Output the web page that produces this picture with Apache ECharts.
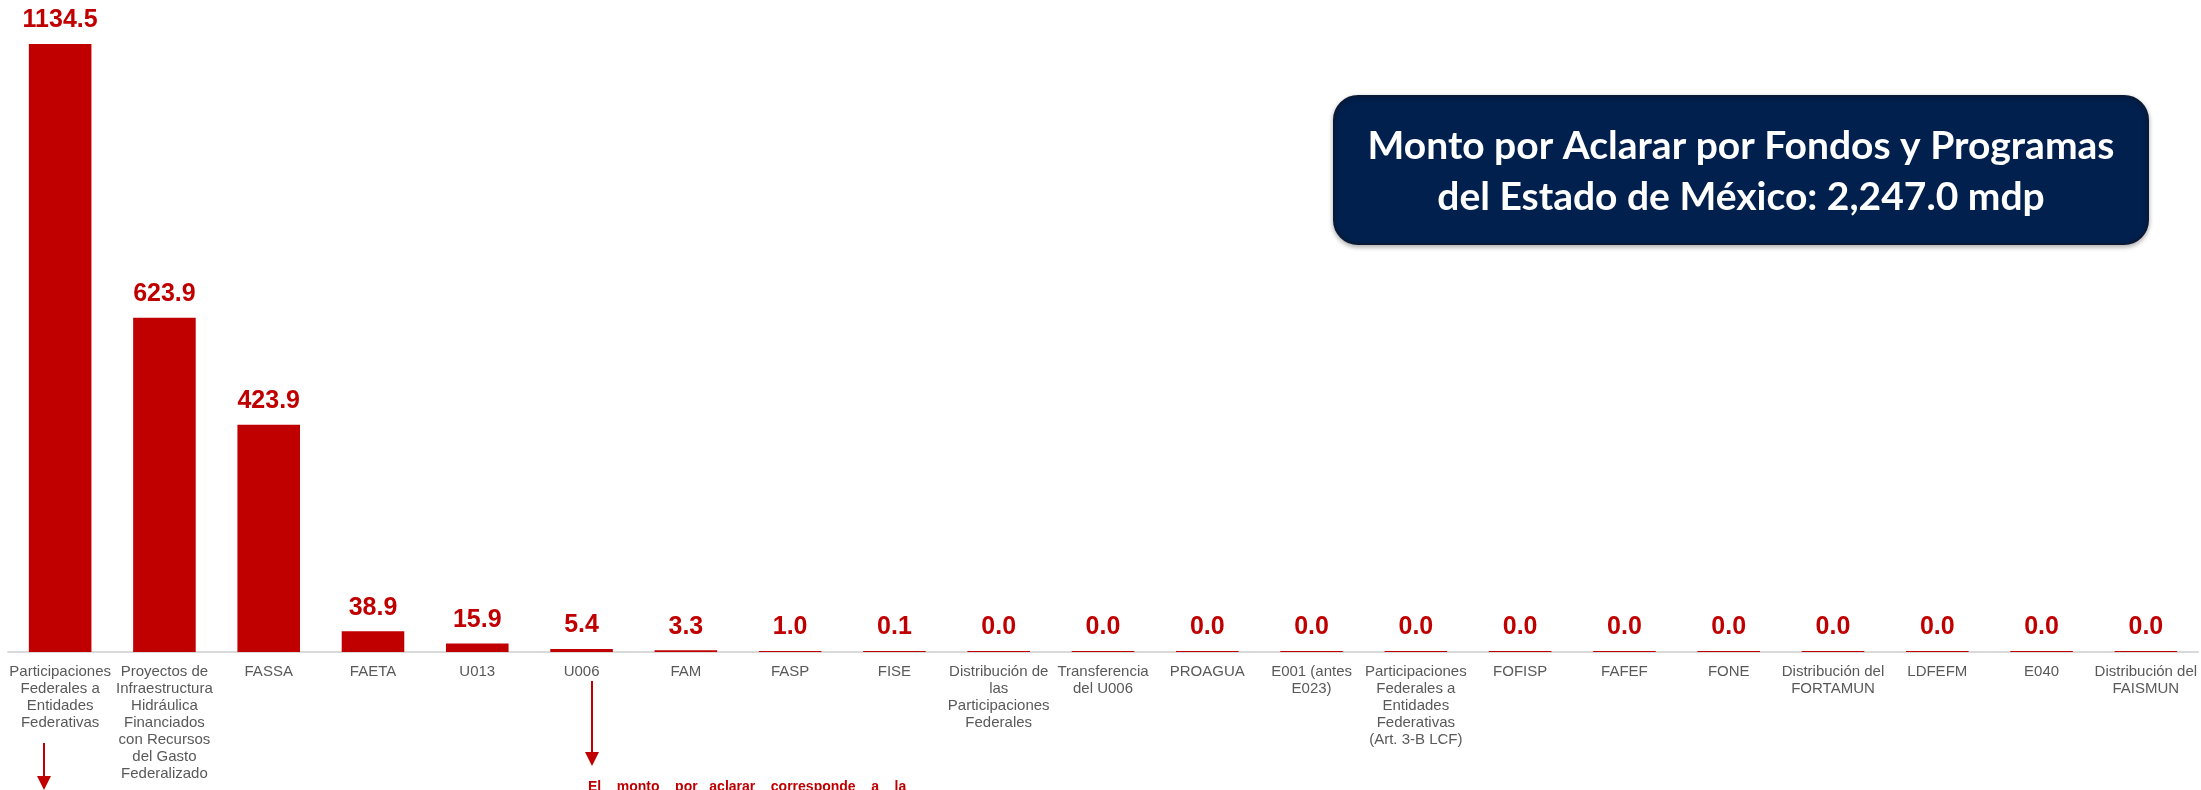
<!DOCTYPE html>
<html>
<head>
<meta charset="utf-8">
<script src="https://cdn.jsdelivr.net/npm/echarts@6/dist/echarts.min.js"></script>
<style>
  html, body { margin: 0; padding: 0; background: #fff; }
  #main { width: 2201px; height: 790px; }
</style>
</head>
<body>
<div id="main"></div>
<script>
// fondos y programas (etiquetas del eje)
const categories = [
  "Participaciones\nFederales a\nEntidades\nFederativas",
  "Proyectos de\nInfraestructura\nHidráulica\nFinanciados\ncon Recursos\ndel Gasto\nFederalizado",
  "FASSA",
  "FAETA",
  "U013",
  "U006",
  "FAM",
  "FASP",
  "FISE",
  "Distribución de\nlas\nParticipaciones\nFederales",
  "Transferencia\ndel U006",
  "PROAGUA",
  "E001 (antes\nE023)",
  "Participaciones\nFederales a\nEntidades\nFederativas\n(Art. 3-B LCF)",
  "FOFISP",
  "FAFEF",
  "FONE",
  "Distribución del\nFORTAMUN",
  "LDFEFM",
  "E040",
  "Distribución del\nFAISMUN"
];
// monto por aclarar (mdp)
const montos = [1134.5, 623.9, 423.9, 38.9, 15.9, 5.4, 3.3, 1.0, 0.1, 0.0, 0.0,
  0.0, 0.0, 0.0, 0.0, 0.0, 0.0, 0.0, 0.0, 0.0, 0.0];

const titulo = "Monto por Aclarar por Fondos y Programas\ndel Estado de México: 2,247.0 mdp";
const nota = "El    monto    por   aclarar    corresponde    a    la";

var myChart = echarts.init(document.getElementById("main"));

var option = {
  animation: false,
  grid: { left: 8, right: 3, top: 9, bottom: 138, containLabel: false, outerBoundsMode: "none" },
  xAxis: {
    type: "category",
    data: categories,
    axisLine: { lineStyle: { color: "#d9d9d9", width: 2 } },
    axisTick: { show: false },
    axisLabel: {
      interval: 0,
      hideOverlap: false,
      color: "#595959",
      fontSize: 15,
      lineHeight: 17,
      margin: 11,
      fontFamily: "Liberation Sans, Arial, sans-serif"
    }
  },
  yAxis: {
    type: "value",
    min: 0,
    max: 1200,
    show: false,
    splitLine: { show: false }
  },
  series: [{
    type: "bar",
    data: montos,
    barCategoryGap: "40%",
    barMinHeight: 1,
    itemStyle: { color: "#c00000" },
    label: {
      show: true,
      position: "top",
      distance: 11,
      color: "#c00000",
      fontSize: 25,
      fontWeight: "bold",
      fontFamily: "Liberation Sans, Arial, sans-serif",
      formatter: function (p) { return p.value.toFixed(1); }
    }
  }],
  graphic: [
    {
      type: "rect",
      shape: { x: 1334, y: 96, width: 814, height: 148, r: 24 },
      style: {
        fill: "#01204e",
        stroke: "#0a1a36",
        lineWidth: 2,
        shadowBlur: 5,
        shadowColor: "rgba(0,0,0,0.3)",
        shadowOffsetY: 2
      },
      z: 10
    },
    {
      type: "text",
      x: 1741,
      y: 172,
      style: {
        text: titulo,
        fill: "#ffffff",
        font: "bold 39px Lato, 'Open Sans', sans-serif",
        lineHeight: 51,
        align: "center",
        verticalAlign: "middle"
      },
      z: 11
    },
    // flechas de nota
    { type: "line", shape: { x1: 44, y1: 743, x2: 44, y2: 777 }, style: { stroke: "#c00000", lineWidth: 2 } },
    { type: "polygon", shape: { points: [[37, 776], [51, 776], [44, 790]] }, style: { fill: "#c00000" } },
    { type: "line", shape: { x1: 592, y1: 681, x2: 592, y2: 753 }, style: { stroke: "#c00000", lineWidth: 2 } },
    { type: "polygon", shape: { points: [[585, 752], [599, 752], [592, 766]] }, style: { fill: "#c00000" } },
    {
      type: "text",
      x: 588,
      y: 780,
      style: {
        text: nota,
        fill: "#c00000",
        font: "bold 14px 'Liberation Sans', Arial, sans-serif",
        verticalAlign: "top"
      }
    }
  ]
};

myChart.setOption(option);
</script>
</body>
</html>
